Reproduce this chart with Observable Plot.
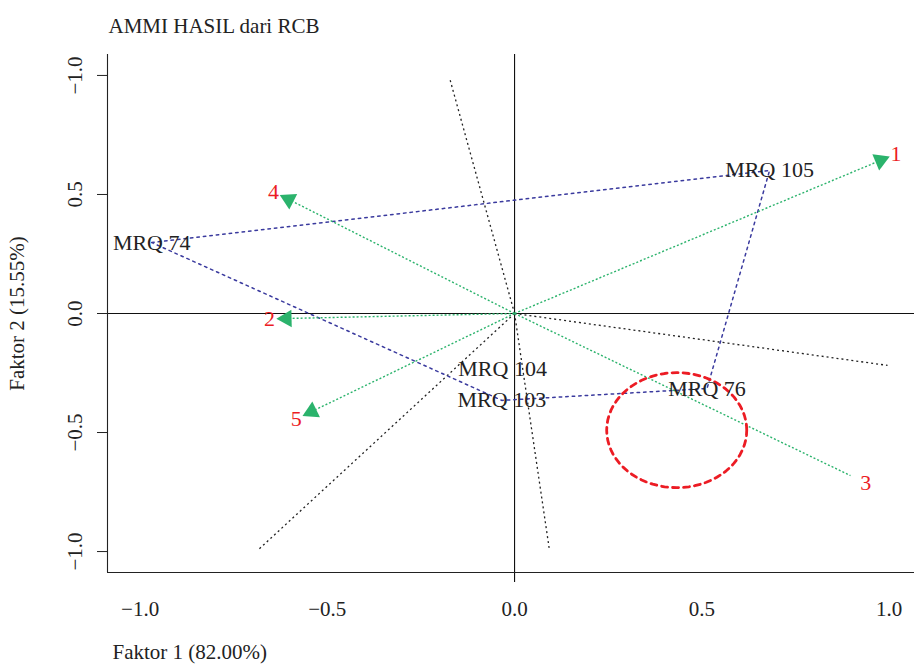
<!DOCTYPE html>
<html><head><meta charset="utf-8">
<script src="https://cdn.jsdelivr.net/npm/d3@7"></script>
<script src="https://cdn.jsdelivr.net/npm/@observablehq/plot@0.6"></script>
<style>html,body{margin:0;padding:0;background:#fff}svg{display:block}</style>
</head><body><div id="chart"></div>
<script>
// ---- data ----
const title = "AMMI HASIL dari RCB";
const xTitle = "Faktor 1 (82.00%)";
const yTitle = "Faktor 2 (15.55%)";

const envNames = ["1", "2", "3", "4", "5"];
const envX = [0.977, -0.609, 0.897, -0.603, -0.542];
const envY = [0.643, -0.021, -0.681, 0.479, -0.412];
const envHead = [true, true, false, true, true];

const genNames = ["MRQ 74", "MRQ 105", "MRQ 76", "MRQ 103", "MRQ 104"];
const genX = [-0.969, 0.681, 0.514, -0.034, -0.032];
const genY = [0.298, 0.601, -0.315, -0.365, -0.235];

const hullOrder = ["MRQ 74", "MRQ 105", "MRQ 76", "MRQ 103", "MRQ 74"];

const rayX = [-0.174, 0.093, 0.996, -0.684];
const rayY = [0.992, -0.992, -0.218, -0.992];

const xTicks = [-1, -0.5, 0, 0.5, 1];
const xTickLabels = ["\u22121.0", "\u22120.5", "0.0", "0.5", "1.0"];
const yTicks = [1, 0.5, 0, -0.5, -1];
const yTickLabels = ["\u22121.0", "0.5", "0.0", "\u22120.5", "\u22121.0"];

const circleCenter = [0.433, -0.49];
const circleRadius = [0.187, 0.2416];

// ---- layout ----
const W = 914, H = 667;
const mL = 107, mR = 0, mT = 54, mB = 95;
const xDomain = [-1.087, 1.068];
const yDomain = [-1.088, 1.088];
const kx = (W - mL - mR) / (xDomain[1] - xDomain[0]);
const ky = (H - mT - mB) / (yDomain[1] - yDomain[0]);

const env = envNames.map((n, i) => {
  const px = envX[i] * kx, py = envY[i] * ky;
  const len = Math.hypot(px, py);
  const off = 17;
  return {
    name: n, x: envX[i], y: envY[i], head: envHead[i],
    lx: envX[i] + (px / len) * off / kx,
    ly: envY[i] + (py / len) * off / ky,
    rot: Math.atan2(px, py) * 180 / Math.PI
  };
});
const gen = genNames.map((n, i) => ({name: n, x: genX[i], y: genY[i]}));
const genByName = new Map(gen.map(d => [d.name, d]));
const hull = hullOrder.map(n => genByName.get(n));
const rays = rayX.map((x, i) => ({x, y: rayY[i]}));
const ellipse = d3.range(0, 72).map(k => {
  const t = k / 72 * 2 * Math.PI;
  return {x: circleCenter[0] + circleRadius[0] * Math.cos(t), y: circleCenter[1] + circleRadius[1] * Math.sin(t)};
});

const green = "#2bb36c", blue = "#3a3a9e", red = "#ec1c24";

const plot = Plot.plot({
  width: W, height: H,
  marginLeft: mL, marginRight: mR, marginTop: mT, marginBottom: mB,
  x: {domain: xDomain},
  y: {domain: yDomain},
  style: {fontFamily: "'Liberation Serif', serif", fontSize: "21px", color: "#222", background: "#fff", overflow: "visible"},
  marks: [
    Plot.ruleY([0], {stroke: "#111", strokeWidth: 1.1}),
    Plot.ruleX([0], {stroke: "#111", strokeWidth: 1.1, insetBottom: -10}),
    Plot.link(rays, {x1: 0, y1: 0, x2: "x", y2: "y", stroke: "#222", strokeDasharray: "2,3", strokeWidth: 1.3}),
    Plot.line(hull, {x: "x", y: "y", stroke: blue, strokeDasharray: "2.5,4", strokeWidth: 1.5}),
    Plot.link(env, {x1: 0, y1: 0, x2: "x", y2: "y", stroke: green, strokeDasharray: "2,2", strokeWidth: 1.4}),
    Plot.dot(env.filter(d => d.head), {x: "x", y: "y", symbol: "triangle", fill: green, stroke: "none", r: 6.5, rotate: "rot"}),
    Plot.line(ellipse, {x: "x", y: "y", curve: "linear-closed", stroke: red, strokeWidth: 2.8, strokeDasharray: "6,5"}),
    Plot.text(gen, {x: "x", y: "y", text: "name", fill: "#222", fontSize: 22}),
    Plot.text(env, {x: "lx", y: "ly", text: "name", fill: red, fontSize: 22}),
    Plot.ruleX([xDomain[0]], {stroke: "#222", strokeWidth: 1.1}),
    Plot.ruleY([yDomain[0]], {stroke: "#222", strokeWidth: 1.1}),
    Plot.axisY({ticks: yTicks, tickSize: 10, tickRotate: -90, tickPadding: 16,
      tickFormat: d => yTickLabels[yTicks.indexOf(d)], label: null, stroke: "#222"}),
    Plot.axisX({ticks: xTicks, tickSize: 0, tickPadding: 29,
      tickFormat: d => xTickLabels[xTicks.indexOf(d)], label: null}),
    Plot.text([title], {frameAnchor: "top-left", dx: 1, dy: -36, textAnchor: "start", fontSize: 21}),
    Plot.text([xTitle], {frameAnchor: "bottom-left", dx: 5, dy: 86, textAnchor: "start"}),
    Plot.text([yTitle], {frameAnchor: "left", dx: -90, rotate: -90, textAnchor: "middle"})
  ]
});
document.getElementById("chart").appendChild(plot);
</script>
</body></html>
